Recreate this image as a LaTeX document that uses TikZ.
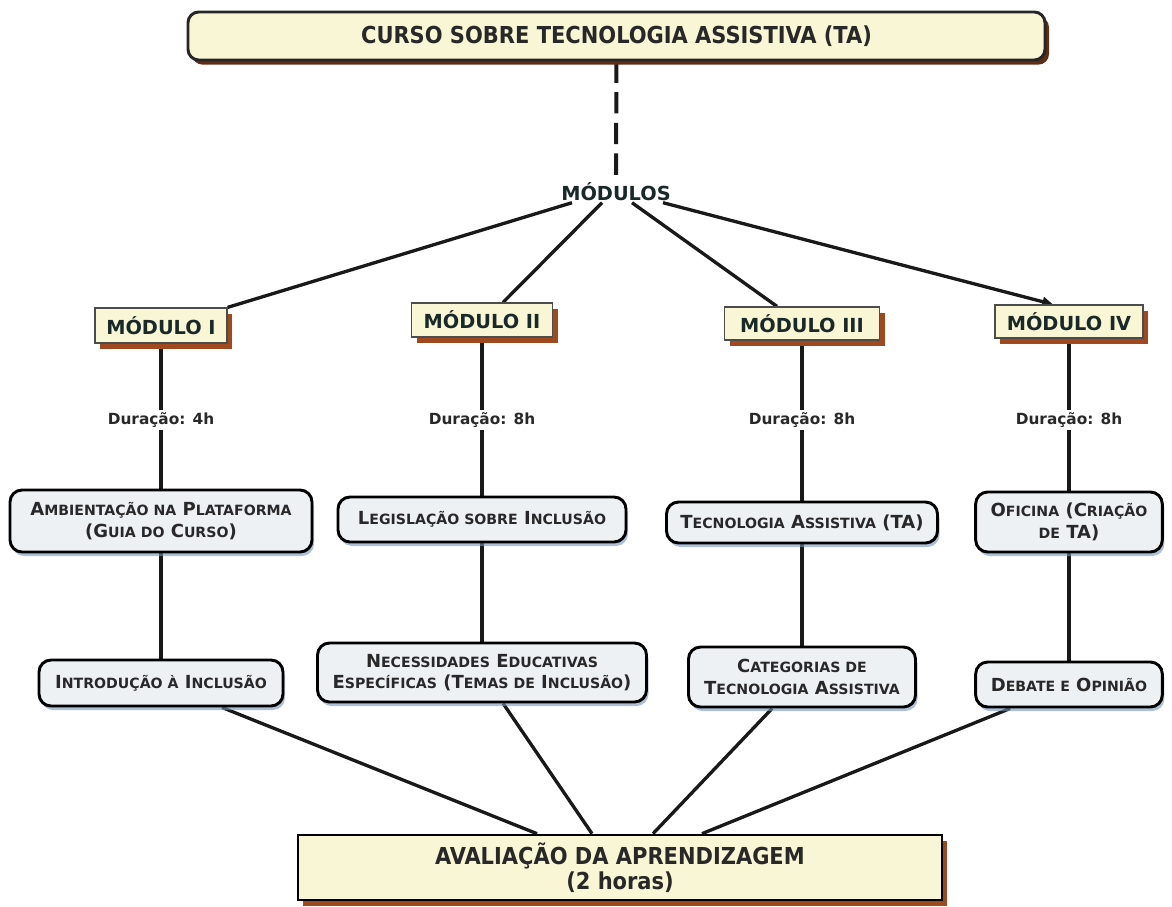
\documentclass[tikz,border=0pt]{standalone}
\usepackage{fontspec}
\setmainfont{DejaVu Sans}
\newfontfamily\condf{DejaVu Sans Condensed}
\usetikzlibrary{shadows,arrows.meta,calc}
\definecolor{pale}{RGB}{248,246,212}
\definecolor{brsh}{RGB}{160,72,30}
\definecolor{dksh}{RGB}{95,45,22}
\definecolor{greyf}{RGB}{238,241,244}
\definecolor{bluesh}{RGB}{120,150,190}
\definecolor{txt}{RGB}{40,40,40}
\definecolor{modtxt}{RGB}{25,40,40}
\newcommand\sk[1]{{\fontsize{10.6pt}{12pt}\selectfont #1}}
\pgfdeclarelayer{bg}
\pgfsetlayers{bg,main}
\begin{document}
\begin{tikzpicture}[x=0.75pt,y=-0.75pt,
  titlebox/.style={draw=black!85, line width=2.2pt, rounded corners=8pt, fill=pale,
    drop shadow={shadow xshift=3pt, shadow yshift=-3.5pt, fill=dksh, opacity=1},
    font=\condf\bfseries\fontsize{17.5pt}{19pt}\selectfont, text=txt, align=center, inner sep=0pt},
  modbox/.style={draw=black!70, line width=0.9pt, fill=pale,
    drop shadow={shadow xshift=3.75pt, shadow yshift=-4.5pt, fill=brsh, opacity=1},
    font=\bfseries\fontsize{14.5pt}{17pt}\selectfont, text=modtxt, inner sep=0pt},
  greybox/.style={draw=black, line width=2.2pt, rounded corners=9pt, fill=greyf,
    drop shadow={shadow xshift=1.5pt, shadow yshift=-3pt, fill=bluesh, opacity=0.6},
    font=\bfseries\fontsize{13.5pt}{16pt}\selectfont, text=txt, align=center, inner sep=0pt},
  durlabel/.style={font=\bfseries\fontsize{11.5pt}{13pt}\selectfont, text=txt, inner sep=2pt},
  conn/.style={line width=2.5pt, black!90},
]
\useasboundingbox (0,0) rectangle (1172,907);

% title
\node[titlebox, minimum width=642.75pt, minimum height=36pt] (title) at (616.5,36)
  {CURSO SOBRE TECNOLOGIA ASSISTIVA (TA)};
\node[font=\bfseries\fontsize{14.5pt}{16pt}\selectfont, text=modtxt, inner sep=1pt] (mods) at (616,192) {MÓDULOS};

% modules
\node[modbox, minimum width=99pt, minimum height=26.25pt] (m1) at (161,325.5) {MÓDULO I};
\node[modbox, minimum width=105.75pt, minimum height=25.5pt] (m2) at (482,320) {MÓDULO II};
\node[modbox, minimum width=116.25pt, minimum height=24.75pt] (m3) at (802,323.5) {MÓDULO III};
\node[modbox, minimum width=111pt, minimum height=24.75pt] (m4) at (1069,321.5) {MÓDULO IV};

% durations
\node[durlabel] (d1) at (161,420) {Duração: 4h};
\node[durlabel] (d2) at (482,420) {Duração: 8h};
\node[durlabel] (d3) at (802,420) {Duração: 8h};
\node[durlabel] (d4) at (1069,420) {Duração: 8h};

% grey boxes
\node[greybox, minimum width=226.5pt, minimum height=46.5pt] (amb) at (161,521)
  {A\sk{MBIENTAÇÃO NA} P\sk{LATAFORMA}\\(G\sk{UIA DO} C\sk{URSO})};
\node[greybox, minimum width=216pt, minimum height=33.75pt] (leg) at (482,519.5)
  {L\sk{EGISLAÇÃO SOBRE} I\sk{NCLUSÃO}};
\node[greybox, minimum width=203.25pt, minimum height=30.75pt] (tec) at (802,522.5)
  {T\sk{ECNOLOGIA} A\sk{SSISTIVA} (TA)};
\node[greybox, minimum width=140pt, minimum height=45pt] (ofi) at (1069,522)
  {O\sk{FICINA} (C\sk{RIAÇÃO}\\ \sk{DE} TA)};
\node[greybox, minimum width=183pt, minimum height=34.5pt] (intro) at (161,683)
  {I\sk{NTRODUÇÃO À} I\sk{NCLUSÃO}};
\node[greybox, minimum width=246.75pt, minimum height=44.25pt] (nec) at (482,672.5)
  {N\sk{ECESSIDADES} E\sk{DUCATIVAS}\\E\sk{SPECÍFICAS} (T\sk{EMAS DE} I\sk{NCLUSÃO})};
\node[greybox, minimum width=170.25pt, minimum height=45pt] (cat) at (802,677)
  {C\sk{ATEGORIAS DE}\\T\sk{ECNOLOGIA} A\sk{SSISTIVA}};
\node[greybox, minimum width=140pt, minimum height=33.75pt] (deb) at (1069,684.5)
  {D\sk{EBATE E} O\sk{PINIÃO}};

% final box
\node[draw=black, line width=2pt, fill=pale,
    drop shadow={shadow xshift=3.75pt, shadow yshift=-4.5pt, fill=brsh, opacity=1},
    font=\condf\bfseries\fontsize{17.5pt}{19pt}\selectfont, text=txt, align=center,
    minimum width=483pt, minimum height=48.75pt, inner sep=0pt] (aval) at (620,867.5)
  {AVALIAÇÃO DA APRENDIZAGEM\\(2 horas)};

\begin{pgfonlayer}{bg}
  \draw[line width=3pt, black!90, dash pattern=on 16pt off 7pt] (title.south) -- (mods.north);
  \draw[conn] ($(mods.south)+(-44,0)$) -- (m1.north east);
  \draw[conn] ($(mods.south)+(-14,0)$) -- ($(m2.north)+(21,0)$);
  \draw[conn] ($(mods.south)+(16,0)$) -- ($(m3.north)+(-25,0)$);
  \draw[conn, -{Triangle[length=8pt,width=7pt]}] ($(mods.south)+(47,0)$) -- ($(m4.north)+(-16,0)$);
  \foreach \m/\d/\a/\b in {m1/d1/amb/intro, m2/d2/leg/nec, m3/d3/tec/cat, m4/d4/ofi/deb}{
    \draw[conn] (\m) -- (\d);
    \draw[conn] (\d) -- (\a);
    \draw[conn] (\a) -- (\b);
  }
  \draw[conn] (intro) -- ($(aval.north)+(-83,0)$);
  \draw[conn] (nec) -- ($(aval.north)+(-28,0)$);
  \draw[conn] (cat) -- ($(aval.north)+(33,0)$);
  \draw[conn] (deb) -- ($(aval.north)+(82,0)$);
\end{pgfonlayer}
\end{tikzpicture}
\end{document}
